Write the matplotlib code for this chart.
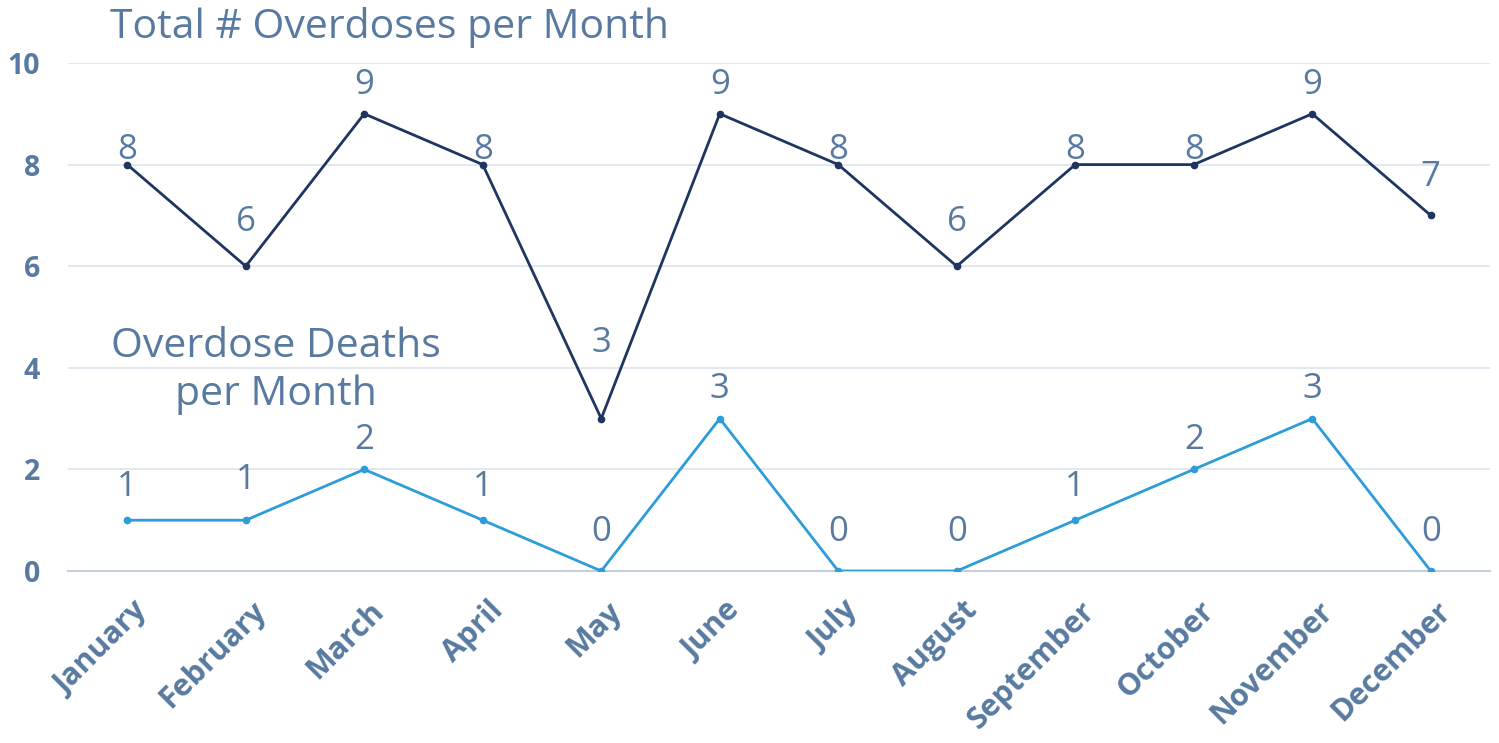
import matplotlib.pyplot as plt
import matplotlib.transforms as mtransforms

# data
months = ["January", "February", "March", "April", "May", "June", "July",
          "August", "September", "October", "November", "December"]
total_overdoses = [8, 6, 9, 8, 3, 9, 8, 6, 8, 8, 9, 7]
overdose_deaths = [1, 1, 2, 1, 0, 3, 0, 0, 1, 2, 3, 0]

# label offsets above each point (pixels)
total_label_off = [15, 44, 29, 15, 76, 29, 15, 44, 15, 15, 29, 38]
death_label_off = [33, 40, 29, 33, 39, 30, 39, 39, 33, 29, 30, 39]

text_color = "#587aa0"
dark_line = "#1f3561"
light_line = "#2d9cd8"
grid_color = "#dde4ee"

fig = plt.figure(figsize=(14.99, 7.43), dpi=100)
ax = fig.add_axes([68 / 1499, 172 / 743, 1422 / 1499, 508 / 743])

x = list(range(len(months)))
ax.plot(x, total_overdoses, color=dark_line, lw=2.0, marker="o", ms=4.5, zorder=3)
ax.plot(x, overdose_deaths, color=light_line, lw=2.0, marker="o", ms=4.5, zorder=3)

for i in x:
    ax.annotate(str(total_overdoses[i]), (i, total_overdoses[i]),
                xytext=(0, total_label_off[i] * 0.72), textcoords="offset points",
                ha="center", va="center", fontsize=25, color=text_color,
                family="Open Sans", zorder=4)
    ax.annotate(str(overdose_deaths[i]), (i, overdose_deaths[i]),
                xytext=(0, death_label_off[i] * 0.72), textcoords="offset points",
                ha="center", va="center", fontsize=25, color=text_color,
                family="Open Sans", zorder=4)

ax.set_xlim(-0.5, len(months) - 0.5)
ax.set_ylim(0, 10)
ax.set_yticks([0, 2, 4, 6, 8, 10])
ax.yaxis.grid(True, color=grid_color, lw=1.2)
ax.set_axisbelow(True)
for s in ["left", "right", "top"]:
    ax.spines[s].set_visible(False)
ax.spines["bottom"].set_color("#c5cedb")
ax.spines["bottom"].set_linewidth(1.5)
ax.tick_params(axis="both", length=0)
ax.tick_params(axis="y", pad=20)

ax.set_xticks(x)
ax.set_xticklabels(months, rotation=45, ha="right", rotation_mode="anchor",
                   fontsize=22, fontweight="bold", color=text_color, family="Open Sans")
for lbl in ax.get_xticklabels():
    lbl.set_transform(lbl.get_transform() + mtransforms.ScaledTranslation(5 / 100, -20 / 100, fig.dpi_scale_trans))
for lbl in ax.get_yticklabels():
    lbl.set_fontsize(20.5)
    lbl.set_fontweight("bold")
    lbl.set_color(text_color)
    lbl.set_family("Open Sans")

# titles
fig.text(110 / 1499, 1 - 27 / 743, "Total # Overdoses per Month", fontsize=29.5,
         color=text_color, family="Open Sans", ha="left", va="center")
fig.text(276 / 1499, 1 - 371 / 743, "Overdose Deaths\nper Month", fontsize=29.5,
         color=text_color, family="Open Sans", ha="center", va="center",
         linespacing=1.25)

fig.savefig("out.png", dpi=100)
